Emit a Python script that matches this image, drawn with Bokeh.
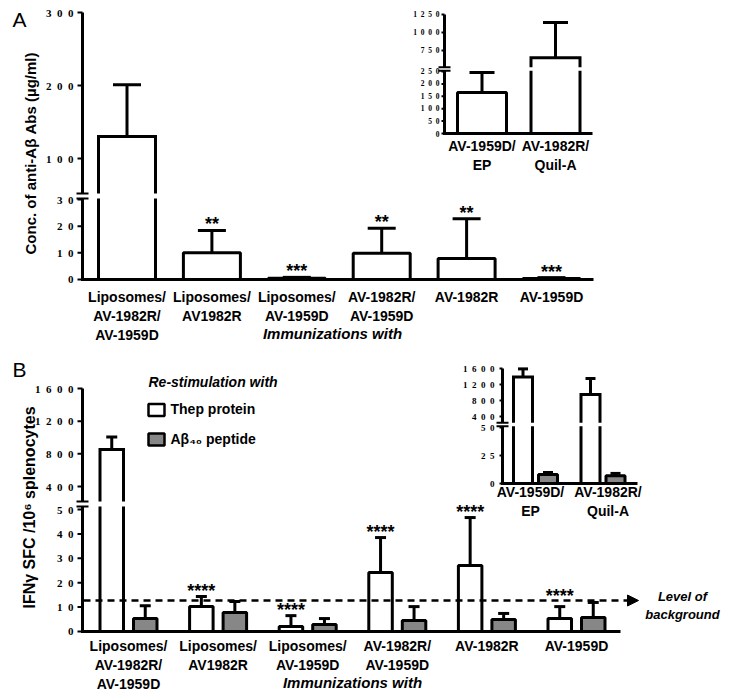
import numpy as np
from bokeh.plotting import figure
from bokeh.models import Range1d, Arrow, NormalHead
from bokeh.embed import file_html
from bokeh.resources import INLINE
from bokeh.core.properties import value

# ---------------- data ----------------
groups = ["Liposomes/\nAV-1982R/\nAV-1959D", "Liposomes/\nAV1982R", "Liposomes/\nAV-1959D",
          "AV-1982R/\nAV-1959D", "AV-1982R", "AV-1959D"]
inset_groups = ["AV-1959D/\nEP", "AV-1982R/\nQuil-A"]

# Panel A: anti-Abeta antibodies (ug/ml)
a_mean = [130, 10, 0.5, 9.8, 7.9, 0.4]
a_err_top = [201, 18.4, 0.8, 19.2, 22.8, 0.7]
a_stars = ["", "**", "***", "**", "**", "***"]
a_ticks_low = [0, 10, 20, 30]
a_ticks_high = [100, 200, 300]

ai_mean = [165, 650]
ai_err_top = [246, 1140]
ai_ticks_low = [0, 50, 100, 150, 200, 250]
ai_ticks_high = [750, 1000, 1250]

# Panel B: IFN-gamma SFC / 10^6 splenocytes
b_thep = [853, 10.2, 2.0, 24.2, 27.0, 5.3]
b_thep_err_top = [1005, 14.3, 6.5, 38.5, 46.7, 10.2]
b_abeta = [5.3, 7.8, 2.9, 4.5, 4.9, 5.7]
b_abeta_err_top = [10.6, 12.3, 5.3, 10.2, 7.4, 11.9]
b_stars = ["", "****", "****", "****", "****", "****"]
b_background = 12.7
b_ticks_low = [0, 10, 20, 30, 40, 50]
b_ticks_high = [400, 800, 1200, 1600]

bi_thep = [1390, 950]
bi_thep_err_top = [1590, 1350]
bi_abeta = [8, 7]
bi_abeta_err_top = [9.8, 9]
bi_ticks_low = [0, 25, 50]
bi_ticks_high = [400, 800, 1200, 1600]

# ---------------- layout ----------------
W, H = 722, 692
L, T = 0, 0
R, B = L + W, T + H
GREY = "#878787"
SANS = value("Liberation Sans")
SERIF = value("Liberation Serif")

p = figure(width=W, height=H, x_range=Range1d(L, R), y_range=Range1d(B, T),
           output_backend="svg", toolbar_location=None, min_border=0,
           x_axis_location=None, y_axis_location=None, outline_line_color=None,
           background_fill_color="white", border_fill_color="white")
p.grid.visible = False


def cal_y(v0, py0, v1, py1):
    k = (v1 - v0) / (py0 - py1)
    return Range1d(start=v0 - (B - py0) * k, end=v0 + (py0 - T) * k)


def cal_x(v0, px0, v1, px1):
    k = (v1 - v0) / (px1 - px0)
    return Range1d(start=v0 - (px0 - L) * k, end=v0 + (R - px0) * k)


def y_at(r, py):
    return r.start + (B - py) / (B - T) * (r.end - r.start)


class Panel:
    def __init__(self, key, axis_x, right_x, xcal, lowcal, highcal, brk_y, gap):
        self.xn, self.lo, self.hi = key + "_x", key + "_lo", key + "_hi"
        self.ax, self.right, self.brk, self.gap = axis_x, right_x, brk_y, gap
        lo_r, hi_r = cal_y(*lowcal), cal_y(*highcal)
        p.extra_x_ranges[self.xn] = cal_x(*xcal)
        p.extra_y_ranges[self.lo] = lo_r
        p.extra_y_ranges[self.hi] = hi_r
        self.ppx = (xcal[3] - xcal[1]) / (xcal[2] - xcal[0])
        self.lo_max = y_at(lo_r, brk_y)
        self.lo_top = y_at(lo_r, brk_y + gap / 2)
        self.hi_bot = y_at(hi_r, brk_y - gap / 2)


def spaced(t):
    return "\u2002".join(str(t))


def draw_axes(P, lo_ticks, hi_ticks, fs, label_dx, tick_len=5, lw=3):
    ax = P.ax
    p.segment(x0=[ax], y0=[0], x1=[ax], y1=[P.lo_top], y_range_name=P.lo,
              line_width=lw, line_color="black")
    p.segment(x0=[ax], y0=[P.hi_bot], x1=[ax], y1=[hi_ticks[-1]], y_range_name=P.hi,
              line_width=lw, line_color="black")
    ys = [P.brk - P.gap / 2, P.brk + P.gap / 2]
    p.segment(x0=[ax - 6] * 2, y0=ys, x1=[ax + 6] * 2, y1=ys, line_width=2, line_color="black")
    p.segment(x0=[ax - lw / 2], y0=[0], x1=[P.right], y1=[0], y_range_name=P.lo,
              line_width=lw, line_color="black")
    for rng, ticks in ((P.lo, lo_ticks), (P.hi, hi_ticks)):
        n = len(ticks)
        p.segment(x0=[ax - tick_len] * n, y0=ticks, x1=[ax] * n, y1=ticks, y_range_name=rng,
                  line_width=2, line_color="black")
        p.text(x=[ax - label_dx] * n, y=ticks, text=[spaced(t) for t in ticks], y_range_name=rng,
               text_align="right", text_baseline="middle", text_font=SERIF,
               text_font_style="bold", text_font_size=f"{fs}px", text_color="black")


def draw_bars(P, xs, tops, err_tops, width_px, cap_px, fill, lw=3):
    xs = np.asarray(xs, float)
    tops = np.asarray(tops, float)
    errs = np.asarray(err_tops, float)
    w, c = width_px / P.ppx, cap_px / P.ppx
    up = tops > P.lo_max
    low = ~up
    # bars entirely in the lower segment
    if low.any():
        p.vbar(x=xs[low], bottom=0, top=tops[low], width=w, fill_color=fill, line_color="black",
               line_width=lw, x_range_name=P.xn, y_range_name=P.lo)
    # bars crossing the axis break: fill + open outlines with a gap
    if up.any():
        xu, tu = xs[up], tops[up]
        n = len(xu)
        p.vbar(x=xu, bottom=0, top=[P.lo_top] * n, width=w, fill_color=fill, line_color=None,
               x_range_name=P.xn, y_range_name=P.lo)
        p.vbar(x=xu, bottom=[P.hi_bot] * n, top=tu, width=w, fill_color=fill, line_color=None,
               x_range_name=P.xn, y_range_name=P.hi)
        p.multi_line(xs=[[x - w / 2, x - w / 2, x + w / 2, x + w / 2] for x in xu],
                     ys=[[P.lo_top, 0, 0, P.lo_top]] * n, x_range_name=P.xn, y_range_name=P.lo,
                     line_width=lw, line_color="black", line_join="miter")
        p.multi_line(xs=[[x - w / 2, x - w / 2, x + w / 2, x + w / 2] for x in xu],
                     ys=[[P.hi_bot, t, t, P.hi_bot] for t in tu], x_range_name=P.xn,
                     y_range_name=P.hi, line_width=lw, line_color="black", line_join="miter")
    for rng, m in ((P.lo, errs <= P.lo_max), (P.hi, errs > P.lo_max)):
        if m.any():
            p.segment(x0=xs[m], y0=tops[m], x1=xs[m], y1=errs[m], x_range_name=P.xn,
                      y_range_name=rng, line_width=lw, line_color="black")
            p.segment(x0=xs[m] - c / 2, y0=errs[m], x1=xs[m] + c / 2, y1=errs[m],
                      x_range_name=P.xn, y_range_name=rng, line_width=lw, line_color="black")


def draw_stars(P, xs, ys, stars):
    xs = np.asarray(xs, float)
    ys = np.asarray(ys, float)
    keep = np.array([s != "" for s in stars])
    for rng, m in ((P.lo, ys <= P.lo_max), (P.hi, ys > P.lo_max)):
        m = m & keep
        if m.any():
            p.text(x=xs[m], y=ys[m], text=[s for s, k in zip(stars, m) if k],
                   x_range_name=P.xn, y_range_name=rng, text_align="center",
                   text_baseline="alphabetic", y_offset=-6, text_font=SANS,
                   text_font_style="bold", text_font_size="18px", text_color="black")


def draw_labels(P, labels, top_y, fs=14, shift_px=None):
    xs = np.arange(len(labels), dtype=float)
    if shift_px is not None:
        xs = xs + np.asarray(shift_px, float) / P.ppx
    p.text(x=xs, y=[top_y] * len(labels), text=labels, x_range_name=P.xn,
           text_align="center", text_baseline="top", text_font=SANS, text_font_style="bold",
           text_font_size=f"{fs}px", text_line_height=1.2, text_color="black")


def label(x, y, s, size, style="bold", align="left", baseline="middle", angle=0.0):
    p.text(x=[x], y=[y], text=[s], text_align=align, text_baseline=baseline, angle=angle,
           text_font=SANS, text_font_style=style, text_font_size=f"{size}px", text_color="black",
           text_line_height=1.2)


# ---------------- Panel A ----------------
PA = Panel("A", 82, 593, (0, 126.5, 5, 551), (0, 279, 30, 199), (100, 158, 300, 12), 195.5, 5)
idx6 = np.arange(len(groups))
draw_bars(PA, idx6, a_mean, a_err_top, 57, 28, "white")
draw_axes(PA, a_ticks_low, a_ticks_high, 11, 9)
draw_stars(PA, idx6, a_err_top, a_stars)
draw_labels(PA, groups, 288.6)
label(332, 333, "Immunizations with", 15, style="bold italic", align="center")
label(30, 153, "Conc. of anti-A\u03b2 Abs (\u00b5g/ml)", 15, align="center",
      angle=np.pi / 2)
label(12, 19, "A", 21, style="normal")

# inset A
PAi = Panel("Ai", 444, 592, (0, 481.5, 1, 555), (0, 133, 250, 71), (750, 50, 1250, 14), 68.5, 3.5)
idx2 = np.arange(len(inset_groups))
draw_bars(PAi, idx2, ai_mean, ai_err_top, 49, 25, "white")
draw_axes(PAi, ai_ticks_low, ai_ticks_high, 7.5, 5, tick_len=3)
draw_labels(PAi, inset_groups, 137.6)

# ---------------- Panel B ----------------
PB = Panel("B", 82, 620, (0, 128, 5, 576), (0, 631, 50, 509), (400, 486, 1600, 388), 503.5, 5)
offB = 16.75 / PB.ppx
draw_bars(PB, idx6 - offB, b_thep, b_thep_err_top, 23.5, 11, "white")
draw_bars(PB, idx6 + offB, b_abeta, b_abeta_err_top, 23.5, 11, GREY)
draw_axes(PB, b_ticks_low, b_ticks_high, 11, 9)
draw_stars(PB, idx6 - offB, np.maximum(b_thep_err_top, b_abeta_err_top), b_stars)
draw_labels(PB, groups, 637.6)
label(352, 682, "Immunizations with", 15, style="bold italic", align="center")
label(29, 507, "IFN\u03b3 SFC /10\u2076 splenocytes", 16, align="center", angle=np.pi / 2)
label(12, 368.5, "B", 21, style="normal")

# background level arrow
p.add_layout(Arrow(end=NormalHead(size=11, fill_color="black", line_color="black", line_width=1),
                   x_start=83, y_start=b_background, x_end=638, y_end=b_background,
                   y_range_name=PB.lo, line_width=2.5, line_dash="7 5", line_color="black"))
label(682, 588, "Level of\nbackground", 13, style="bold italic", align="center", baseline="top")

# legend
label(148, 381, "Re-stimulation with", 14, style="bold italic")
p.rect(x=[156, 156], y=[409.5, 439], width=16, height=12, fill_color=["white", GREY],
       line_color="black", line_width=2.5)
label(170, 408.5, "Thep protein", 14)
label(170, 438, "A\u03b2\u2084\u2080 peptide", 14)

# inset B
PBi = Panel("Bi", 502, 637, (0, 535, 1, 602.5), (0, 483, 50, 427), (400, 416, 1600, 368), 424, 3.5)
offBi = 12.5 / PBi.ppx
draw_bars(PBi, idx2 - offBi, bi_thep, bi_thep_err_top, 19, 10, "white")
draw_bars(PBi, idx2 + offBi, bi_abeta, bi_abeta_err_top, 19, 10, GREY)
draw_axes(PBi, bi_ticks_low, bi_ticks_high, 9, 8, tick_len=3)
draw_labels(PBi, inset_groups, 483.6, shift_px=[-5, 5])

open("out.html", "w").write(file_html(p, INLINE))
